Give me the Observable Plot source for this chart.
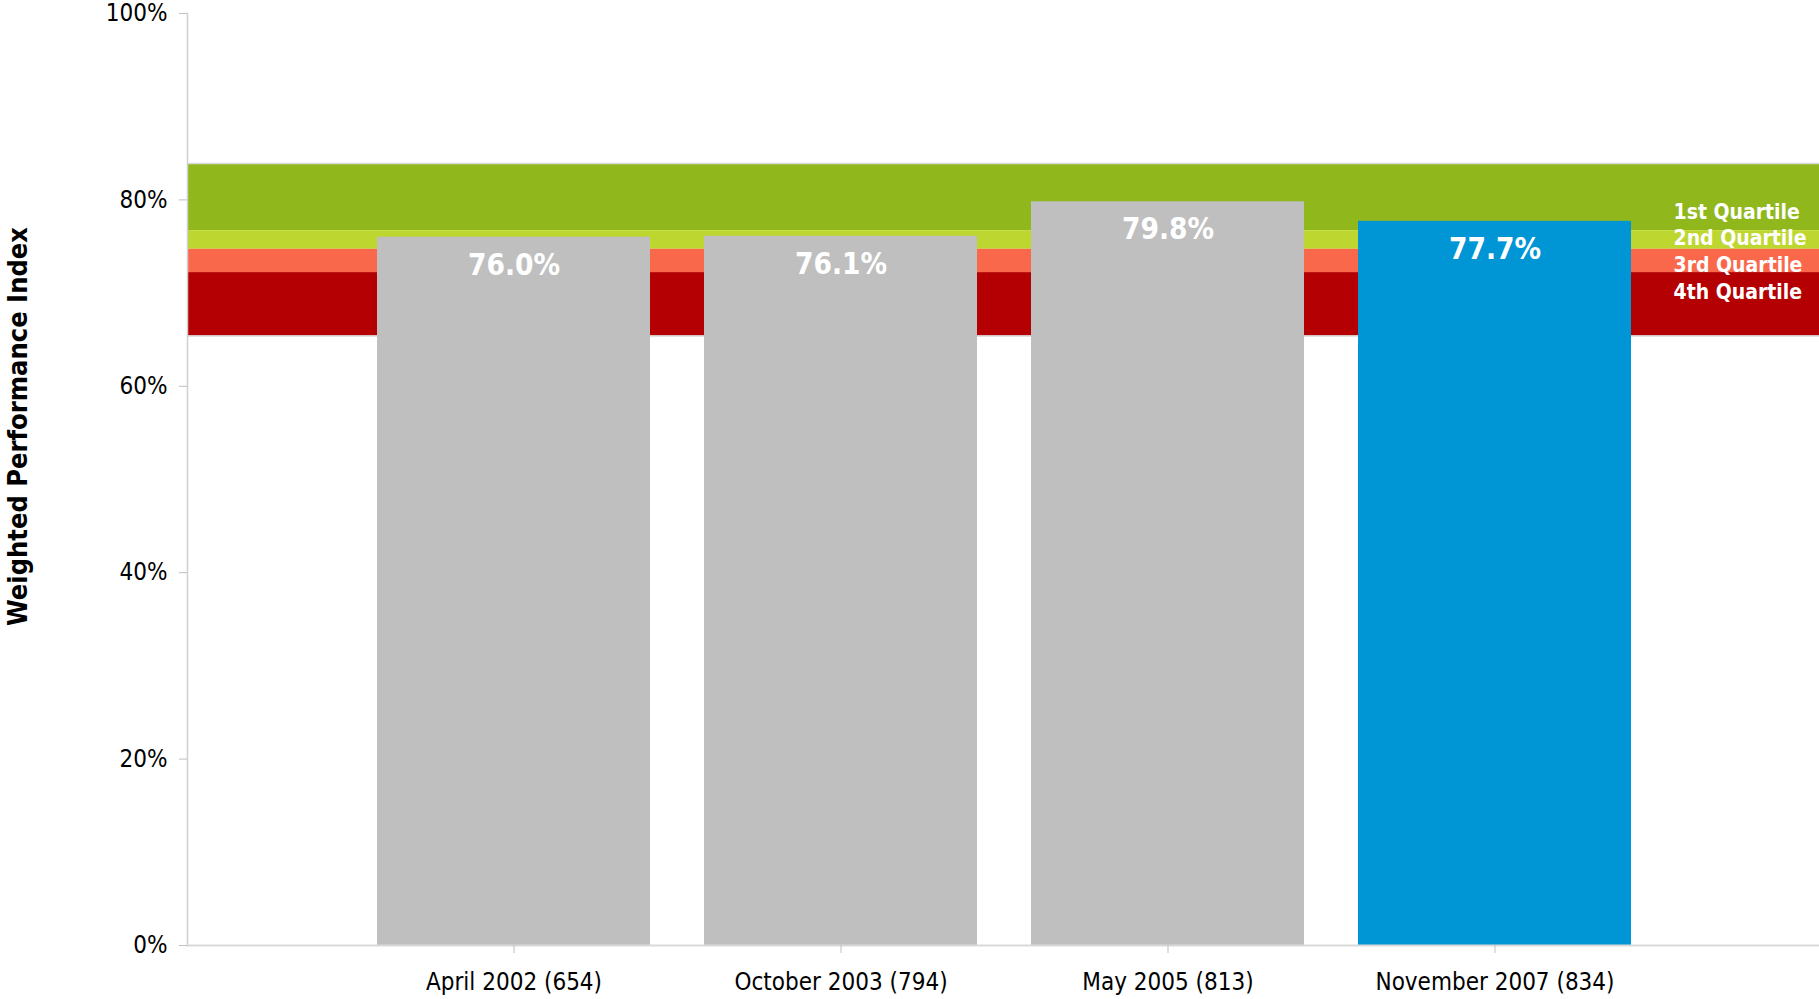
<!DOCTYPE html>
<html><head><meta charset="utf-8">
<script src="https://cdn.jsdelivr.net/npm/d3@7"></script>
<script src="https://cdn.jsdelivr.net/npm/@observablehq/plot@0.6"></script>
<style>
html,body{margin:0;padding:0;background:#fff;}
#chart svg{font-family:"DejaVu Sans Condensed","DejaVu Sans",sans-serif;font-stretch:condensed;background:#fff;}
</style></head><body><div id="chart"></div>
<script>
const surveys = ["April 2002 (654)", "October 2003 (794)", "May 2005 (813)", "November 2007 (834)"];
const scores = [76.0, 76.1, 79.8, 77.7];
const barColors = ["#bfbfbf", "#bfbfbf", "#bfbfbf", "#0095d5"];
const quartileNames = ["1st Quartile", "2nd Quartile", "3rd Quartile", "4th Quartile"];
const quartileLow = [76.7, 74.7, 72.2, 65.4];
const quartileHigh = [83.9, 76.7, 74.7, 72.2];
const quartileColors = ["#90b81c", "#bed630", "#fa684b", "#b40003"];
const yTicks = [0, 20, 40, 60, 80, 100];

const bars = surveys.map((s, i) => ({survey: s, score: scores[i], color: barColors[i]}));
const bands = quartileNames.map((q, i) => ({name: q, lo: quartileLow[i], hi: quartileHigh[i], color: quartileColors[i]}));

const W = 1819, H = 999, ML = 187;

const chart = Plot.plot({
  width: W, height: H,
  marginTop: 13, marginBottom: 54, marginLeft: ML, marginRight: 0,
  x: {type: "band", domain: surveys, range: [349.5, 1658], paddingInner: 0.164, paddingOuter: 0.082, align: 0.5},
  y: {domain: [0, 100]},
  color: {type: "identity"},
  marks: [
    Plot.rect(bands, {y1: "lo", y2: "hi", fill: "color"}),
    Plot.ruleY([quartileHigh[0], quartileLow[3]], {stroke: "#d9d9d9", strokeWidth: 1.5}),
    Plot.frame({anchor: "left", stroke: "#d0d0d0", strokeWidth: 1.5}),
    Plot.barY(bars, {x: "survey", y: "score", fill: "color"}),
    Plot.ruleY([0], {stroke: "#d9d9d9", strokeWidth: 2}),
    Plot.axisY({ticks: yTicks, tickFormat: d => d + "%", tickSize: 8, tickPadding: 12, stroke: "#bfbfbf", fontSize: 24, label: null}),
    Plot.axisX({tickSize: 8, tickPadding: 19, stroke: "#bfbfbf", fontSize: 24, label: null}),
    Plot.text(bars, {x: "survey", y: "score", text: d => d.score.toFixed(1) + "%", dy: 28, fill: "white", fontWeight: "bold", fontSize: 29.5}),
    Plot.text([quartileNames.join("\n")], {frameAnchor: "right", dx: -146, y: 74.6, textAnchor: "start", lineHeight: 1.27, fill: "white", fontWeight: "bold", fontSize: 21}),
    Plot.text(["Weighted Performance Index"], {frameAnchor: "left", dx: -169, dy: -53, rotate: -90, textAnchor: "middle", fontWeight: "bold", fontSize: 27, fill: "black"})
  ]
});
document.getElementById("chart").append(chart);
</script></body></html>
